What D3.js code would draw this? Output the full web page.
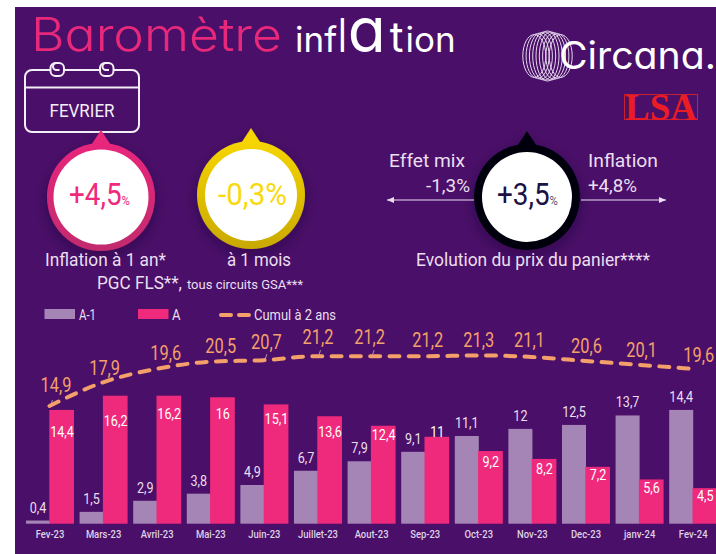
<!DOCTYPE html>
<html>
<head>
<meta charset="UTF-8">
<title>Baromètre inflation</title>
<script src="https://d3js.org/d3.v7.min.js"></script>
<style>
html, body { margin: 0; padding: 0; background: #fff; }
svg { display: block; font-family: Roboto, sans-serif; }
.geo { font-family: Inter, sans-serif; font-feature-settings: "cv11" 1; }
</style>
</head>
<body>
<script>
var months = ["Fev-23","Mars-23","Avril-23","Mai-23","Juin-23","Juillet-23","Aout-23","Sep-23","Oct-23","Nov-23","Dec-23","janv-24","Fev-24"];
var prevYear = [0.4,1.5,2.9,3.8,4.9,6.7,7.9,9.1,11.1,12,12.5,13.7,14.4];
var curYear = [14.4,16.2,16.2,16,15.1,13.6,12.4,11,9.2,8.2,7.2,5.6,4.5];
var cumul = [14.9,17.9,19.6,20.5,20.7,21.2,21.2,21.2,21.3,21.1,20.6,20.1,19.6];

// hand placed labels in the original, offsets from the mark
var curLabelDy = [27,30,23,22,20,21,14,0,16,15,13,14,13];
var cumulLabelDx = [6,1,8.5,10,2,0,-2,2.5,0,-3,0.5,2,5.5];
var cumulLabelDy = [-14,-7,-9,-9,-11,-12,-12,-9,-8,-10,-8,-8,-7];
// leftover leader lines on these months
var leaders = [0,4,5,6];

var width = 716, height = 554;
var PINK = "#ef2a7c", MAUVE = "#a585b5", PEACH = "#f4a06a", LIGHT = "#eadff0", BG = "#4a0f68";

var svg = d3.select("body").append("svg")
    .attr("width", width)
    .attr("height", height);

var defs = svg.append("defs");
var shadow = defs.append("filter").attr("id", "shadow")
    .attr("x", "-30%").attr("y", "-30%").attr("width", "160%").attr("height", "170%");
shadow.append("feDropShadow")
    .attr("dx", 0).attr("dy", 5).attr("stdDeviation", 6)
    .attr("flood-color", "#1d0530").attr("flood-opacity", 0.45);

svg.append("rect")
    .attr("x", 15).attr("y", 7)
    .attr("width", width - 15).attr("height", height - 7)
    .attr("fill", BG);

// text helper, the original type is condensed so squeeze to the measured width
function label(txt, x, y, size, color, w, anchor) {
    var t = svg.append("text")
        .attr("x", x).attr("y", y)
        .attr("font-size", size)
        .attr("fill", color)
        .attr("text-anchor", anchor || "start")
        .text(txt);
    if (w) t.attr("textLength", w).attr("lengthAdjust", "spacingAndGlyphs");
    return t;
}

// title
label("Baromètre", 31, 51, 46, "#e8297b", 251).attr("class", "geo").attr("font-weight", 300);
var infl = svg.append("text").attr("class", "geo")
    .attr("x", 295).attr("y", 52)
    .attr("font-size", 35)
    .attr("fill", "#fff")
    .text("inf");
infl.append("tspan").attr("font-size", 46).attr("font-weight", 300).text("l");
infl.append("tspan").attr("font-size", 62).attr("dx", 0).text("a");
infl.append("tspan").attr("font-size", 42).attr("dx", 4).text("t");
infl.append("tspan").attr("dx", 2).text("ion");

// circana logo
var logo = svg.append("g").attr("fill", "none").attr("stroke", "#e6d9ee").attr("stroke-width", 1);
d3.range(-4, 5).forEach(function(i) {
    logo.append("ellipse")
        .attr("cx", 547.5 + i * 3.3).attr("cy", 56)
        .attr("rx", 11.5).attr("ry", 25 - Math.abs(i) * 0.9);
});
label("Circana.", 559, 69, 38, "#fff", 157).attr("class", "geo").attr("font-weight", 400);

// LSA
svg.append("rect").attr("x", 624.5).attr("y", 94.5).attr("width", 73).attr("height", 25)
    .attr("fill", "none").attr("stroke", "#c8202e").attr("stroke-width", 1);
label("LSA", 625, 119.5, 38, "#ec1c24", 72)
    .attr("font-family", "'Liberation Serif', serif").attr("font-weight", 700);

// calendar
var cal = svg.append("g").attr("fill", "none").attr("stroke", "#f4eef7").attr("stroke-width", 2);
cal.append("rect").attr("x", 25).attr("y", 70).attr("width", 114).attr("height", 62).attr("rx", 7);
cal.append("line").attr("x1", 25).attr("x2", 139).attr("y1", 87.5).attr("y2", 87.5);
[56.5, 106].forEach(function(cx) {
    cal.append("rect").attr("x", cx - 6).attr("y", 63).attr("width", 13.5).attr("height", 13).attr("rx", 5)
        .attr("fill", BG);
    cal.append("path")
        .attr("d", "M" + cx + ",63A3.5,3.5 0 0 0 " + cx + ",70H" + (cx + 3));
});
label("FEVRIER", 49.5, 117, 19, "#f4eef7", 65);

// gauges
function gauge(cx, cy, r, inner, ring, ringDark) {
    var id = "ring" + cx;
    var g = defs.append("linearGradient").attr("id", id).attr("x1", 0).attr("x2", 0).attr("y1", 0).attr("y2", 1);
    g.append("stop").attr("offset", "0%").attr("stop-color", ring);
    g.append("stop").attr("offset", "100%").attr("stop-color", ringDark);
    var s = svg.append("g").attr("filter", "url(#shadow)");
    s.append("path")
        .attr("d", "M" + (cx - 11) + "," + (cy - r + 4) + "L" + cx + "," + (cy - r - 13) + "L" + (cx + 11) + "," + (cy - r + 4) + "Z")
        .attr("fill", ring);
    s.append("circle").attr("cx", cx).attr("cy", cy).attr("r", r).attr("fill", "url(#" + id + ")");
    svg.append("circle").attr("cx", cx).attr("cy", cy).attr("r", inner).attr("fill", "#fff");
}
gauge(101, 197, 54, 47.5, "#e8277c", "#c22a6e");
gauge(251, 195, 54, 46, "#f6d500", "#c9a904");
gauge(527, 197, 53, 45, "#050210", "#050210");

// gauge number with its small percent sign in one text
function gaugeValue(txt, x, y, color, pctColor) {
    var t = svg.append("text")
        .attr("transform", "translate(" + x + "," + y + ") scale(0.87,1)")
        .attr("font-size", 32)
        .attr("fill", color)
        .text(txt);
    t.append("tspan").attr("font-size", 13).attr("fill", pctColor).text("%");
}
gaugeValue("+4,5", 69, 205, "#ef2a7c", "#ef2a7c");
label("-0,3%", 218, 205, 32, "#f8d90f", 69);
gaugeValue("+3,5", 497, 205, "#1a1145", "#5d5670");

label("Inflation à 1 an*", 45, 266, 19, LIGHT, 121);
label("à 1 mois", 227, 266, 19, LIGHT, 64);
label("PGC FLS**,", 97, 289, 19, LIGHT, 85);
label("tous circuits GSA***", 187, 289, 13, LIGHT, 116);
label("Evolution du prix du panier****", 416, 266, 19, LIGHT, 234);

label("Effet mix", 389, 167, 19, LIGHT, 76);
label("-1,3%", 426, 192, 19, LIGHT, 44);
label("Inflation", 588, 167, 19, LIGHT, 70);
label("+4,8%", 588, 192, 19, LIGHT, 49);

// arrows either side of the basket gauge
function arrow(x1, x2) {
    var d = x2 > x1 ? -1 : 1;
    svg.append("line").attr("x1", x1).attr("x2", x2).attr("y1", 200).attr("y2", 200)
        .attr("stroke", LIGHT).attr("stroke-width", 1);
    svg.append("path").attr("d", "M" + x2 + ",200L" + (x2 + d * 7) + ",197L" + (x2 + d * 7) + ",203Z").attr("fill", LIGHT);
}
arrow(474, 387);
arrow(581, 666);

// legend
svg.append("rect").attr("x", 44.5).attr("y", 309).attr("width", 30.5).attr("height", 10).attr("fill", MAUVE);
label("A-1", 79, 320, 14, LIGHT, 17);
svg.append("rect").attr("x", 138).attr("y", 309).attr("width", 30.5).attr("height", 10).attr("fill", PINK);
label("A", 172, 320, 14, LIGHT, 8.5);
svg.append("line").attr("x1", 221).attr("x2", 249).attr("y1", 315).attr("y2", 315)
    .attr("stroke", PEACH).attr("stroke-width", 4).attr("stroke-linecap", "round").attr("stroke-dasharray", "10 8");
label("Cumul à 2 ans", 254, 320, 14, LIGHT, 82);

// chart
var x = d3.scaleBand()
    .domain(months)
    .range([23.2, 720])
    .paddingInner(0.104)
    .paddingOuter(0.052);
var sub = d3.scaleBand()
    .domain(["prev", "cur"])
    .range([0, x.bandwidth()]);
var y = d3.scaleLinear()
    .domain([0, 16.2])
    .range([523.7, 395.7]);

var chart = svg.append("g");

chart.selectAll("rect.prev").data(prevYear).join("rect")
    .attr("class", "prev")
    .attr("x", function(d, i) { return x(months[i]) + sub("prev"); })
    .attr("width", sub.bandwidth())
    .attr("y", function(d) { return y(d); })
    .attr("height", function(d) { return y(0) - y(d); })
    .attr("fill", MAUVE);

chart.selectAll("rect.cur").data(curYear).join("rect")
    .attr("class", "cur")
    .attr("x", function(d, i) { return x(months[i]) + sub("cur") - 0.7; })
    .attr("width", sub.bandwidth() + 0.7)
    .attr("y", function(d) { return y(d); })
    .attr("height", function(d) { return y(0) - y(d); })
    .attr("fill", PINK);

function fr(v) { return String(v).replace(".", ","); }

function squeezed(sel, px, py, size, color, sx) {
    sel.append("text")
        .attr("transform", function(d, i) { return "translate(" + px(d, i) + "," + py(d, i) + ") scale(" + sx + ",1)"; })
        .attr("text-anchor", "middle")
        .attr("font-size", size)
        .attr("fill", color)
        .text(function(d) { return fr(d); });
}

squeezed(chart.append("g").selectAll("g").data(prevYear).enter(),
    function(d, i) { return x(months[i]) + sub("prev") + sub.bandwidth() / 2; },
    function(d) { return y(d) - 8; }, 15, LIGHT, 0.84);

squeezed(chart.append("g").selectAll("g").data(curYear).enter(),
    function(d, i) { return x(months[i]) + sub("cur") + sub.bandwidth() / 2; },
    function(d, i) { return y(d) + curLabelDy[i]; }, 15, "#fff", 0.84);

// cumul line
var lineX = function(i) { return x(months[i]) + x.bandwidth() / 2 - 0.5; };
var line = d3.line()
    .x(function(d, i) { return lineX(i); })
    .y(function(d) { return y(d); })
    .curve(d3.curveMonotoneX);

chart.selectAll("line.leader").data(leaders).join("line")
    .attr("class", "leader")
    .attr("x1", function(d) { return lineX(d) + 1; })
    .attr("x2", function(d) { return lineX(d) + 3; })
    .attr("y1", function(d) { return y(cumul[d]); })
    .attr("y2", function(d) { return y(cumul[d]) - 6; })
    .attr("stroke", "#a79aa6")
    .attr("stroke-width", 1);

chart.append("path")
    .datum(cumul)
    .attr("d", line)
    .attr("fill", "none")
    .attr("stroke", PEACH)
    .attr("stroke-width", 4)
    .attr("stroke-linecap", "round")
    .attr("stroke-dasharray", "10 9.3");

squeezed(chart.append("g").selectAll("g").data(cumul).enter(),
    function(d, i) { return x(months[i]) + x.bandwidth() / 2 + cumulLabelDx[i]; },
    function(d, i) { return y(d) + cumulLabelDy[i]; }, 20, PEACH, 0.82);

// month axis
var xAxis = chart.append("g")
    .attr("transform", "translate(0," + y(0) + ")")
    .call(d3.axisBottom(x).tickSize(0).tickPadding(7));
xAxis.select(".domain").remove();
xAxis.selectAll("text")
    .attr("font-family", "Roboto, sans-serif")
    .attr("font-size", 10.5)
    .attr("font-weight", 500)
    .attr("fill", "#ddd2e6")
    .attr("transform", "scale(0.9,1)")
    .attr("x", 0);
</script>
</body>
</html>
